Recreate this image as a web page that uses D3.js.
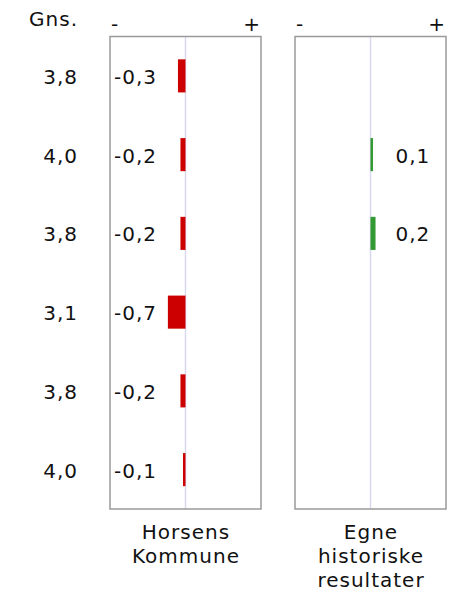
<!DOCTYPE html>
<meta charset="utf-8">
<style>
body {
  margin: 0;
  padding: 0;
  background: #fff;
}
text {
  font-family: "DejaVu Sans", Verdana, sans-serif;
  font-size: 20px;
  letter-spacing: 1px;
  fill: #111;
}
</style>
<body>
<script src="https://d3js.org/d3.v7.min.js"></script>
<script>

// row averages (left column)
var avgLabels = ["3,8", "4,0", "3,8", "3,1", "3,8", "4,0"];
// difference vs. Horsens Kommune
var kommune = [-0.3, -0.2, -0.2, -0.7, -0.2, -0.1];
// difference vs. own historic results (null = no bar)
var historisk = [null, 0.1, 0.2, null, null, null];
var panelTitles = [["Horsens", "Kommune"], ["Egne", "historiske", "resultater"]];

var width = 450,
    height = 593,
    plotTop = 36.5,
    plotBottom = 509;

// comma decimals, plain hyphen for the minus
var fmt = d3.formatLocale({decimal: ",", thousands: ".", grouping: [3], currency: ["", ""], minus: "-"}).format(".1f");

var svg = d3.select("body").append("svg")
    .attr("width", width)
    .attr("height", height);

var y = d3.scaleBand()
    .domain(d3.range(avgLabels.length))
    .range([plotTop, plotBottom])
    .paddingInner(0.58)
    .paddingOuter(0.29);

svg.append("text")
    .attr("x", 78)
    .attr("y", 26)
    .attr("text-anchor", "end")
    .text("Gns.");

svg.selectAll(".avg")
    .data(avgLabels)
  .enter().append("text")
    .attr("class", "avg")
    .attr("x", 78)
    .attr("y", function(d, i) { return y(i) + y.bandwidth() / 2 + 8; })
    .attr("text-anchor", "end")
    .text(function(d) { return d; });

var panels = [
  {left: 110, right: 261, values: kommune},
  {left: 295, right: 446, values: historisk}
];

panels.forEach(function(p, k) {
  var x = d3.scaleLinear().domain([-3, 3]).range([p.left, p.right]);
  var g = svg.append("g");

  g.append("line")
      .attr("x1", x(0)).attr("x2", x(0))
      .attr("y1", plotTop).attr("y2", plotBottom)
      .style("stroke", "#d8d8ee")
      .style("stroke-width", 1.5);

  g.append("rect")
      .attr("x", p.left)
      .attr("y", plotTop)
      .attr("width", p.right - p.left)
      .attr("height", plotBottom - plotTop)
      .style("fill", "none")
      .style("stroke", "#9a9a9a")
      .style("stroke-width", 1.5);

  g.append("text")
      .attr("x", p.left + 1)
      .attr("y", 31)
      .text("-");
  g.append("text")
      .attr("x", p.right)
      .attr("y", 31)
      .attr("text-anchor", "end")
      .text("+");

  var rows = p.values.map(function(v, i) { return {v: v, i: i}; })
      .filter(function(d) { return d.v != null; });

  g.selectAll(".bar")
      .data(rows)
    .enter().append("rect")
      .attr("class", "bar")
      .attr("x", function(d) { return x(Math.min(0, d.v)); })
      .attr("y", function(d) { return y(d.i); })
      .attr("width", function(d) { return Math.abs(x(d.v) - x(0)); })
      .attr("height", y.bandwidth())
      .style("fill", function(d) { return d.v < 0 ? "#cc0000" : "#339933"; });

  g.selectAll(".val")
      .data(rows)
    .enter().append("text")
      .attr("class", "val")
      .attr("x", function(d) { return d.v < 0 ? p.left + 4 : x(0) + 25; })
      .attr("y", function(d) { return y(d.i) + y.bandwidth() / 2 + 8; })
      .text(function(d) { return fmt(d.v); });

  g.selectAll(".title")
      .data(panelTitles[k])
    .enter().append("text")
      .attr("class", "title")
      .attr("x", x(0) + 0.5)
      .attr("y", function(d, j) { return 539 + j * 24; })
      .attr("text-anchor", "middle")
      .text(function(d) { return d; });
});

</script>
